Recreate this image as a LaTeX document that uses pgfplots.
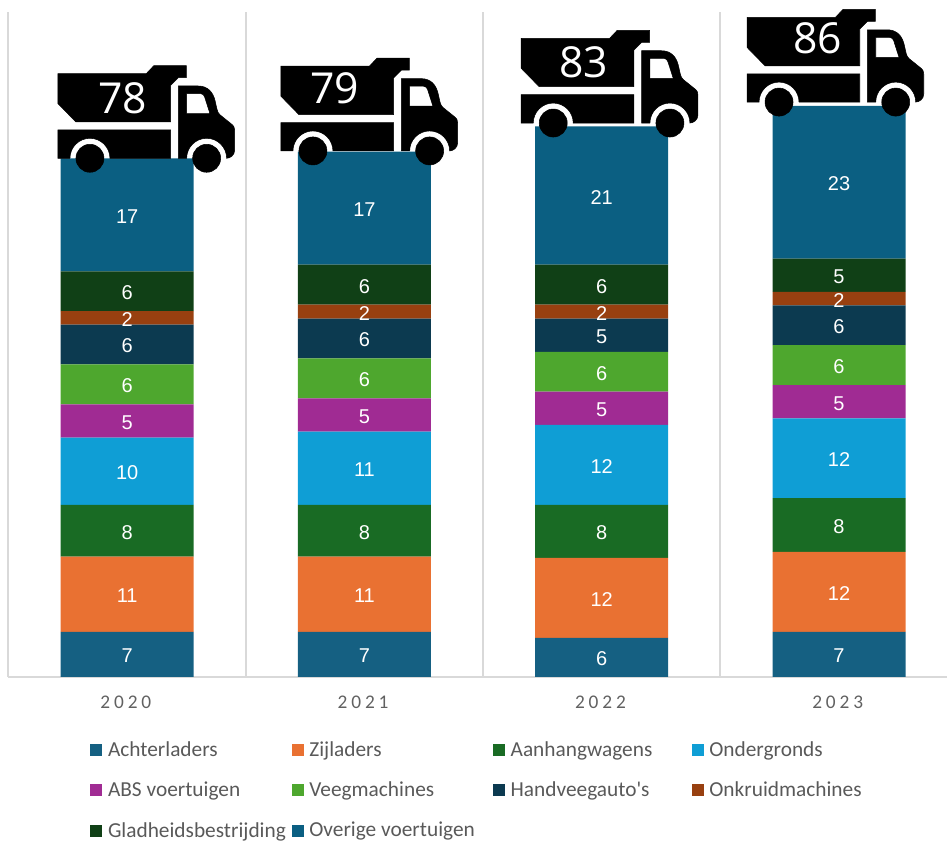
\documentclass[border=0pt]{standalone}
\usepackage{pgfplots}
\pgfplotsset{compat=1.18}
\usepackage{fontspec}
\setmainfont{Liberation Sans}
\newfontfamily\legf{Carlito}
\newfontfamily\tickf[LetterSpace=20]{Carlito}
\newfontfamily\truckf{Open Sans}
\definecolor{c1}{HTML}{156082}
\definecolor{c2}{HTML}{E97132}
\definecolor{c3}{HTML}{196B24}
\definecolor{c4}{HTML}{0F9ED5}
\definecolor{c5}{HTML}{A02B93}
\definecolor{c6}{HTML}{4EA72E}
\definecolor{c7}{HTML}{0C3A50}
\definecolor{c8}{HTML}{984010}
\definecolor{c9}{HTML}{104016}
\definecolor{c10}{HTML}{0B5F82}
\pgfdeclareplotmark{truck}{%
 \fill[black,x=.75pt,y=.75pt,even odd rule]
  (0,84.7)--(88.4,84.7)--(96,92.7)--(128.4,92.7)--(128.4,80.7)--(120.4,80.7)--(112.7,73)--(112.7,36.3)--(18,36.3)--(0,54.7)--cycle
  (0,28.3)--(112.7,28.3)--(112.7,0)--(52,0) arc[start angle=0,end angle=180,radius=20]--(0,0)--cycle
  (120.4,72.3)--(140,72.3) .. controls (150,72.3) and (155,66) .. (157,58) .. controls (159,50) and (159,46) .. (162,43.5) --(174.4,33.5) .. controls (176,32) .. (176.7,28)--(176.7,8) .. controls (176.7,3) and (172,0) .. (168.7,0) arc[start angle=0,end angle=180,radius=20]--(120.4,0)--cycle
  (128.7,64.7)--(142.7,64.7) .. controls (145,64.7) and (146,63) .. (146.7,61.3)--(152,44.7)--(128.7,44.7)--cycle
  (32,0) circle[radius=14] (148.7,0) circle[radius=14];
}
\pgfplotsset{base/.style={
  at={(8.5*.75pt,165*.75pt)},anchor=south west,scale only axis,
  width=938.5*.75pt,height=665*.75pt,
  xmin=0,xmax=3.955,ymin=0,ymax=100,clip=false}}
\newcommand\truck[7]{%
  \addplot[only marks,mark=truck,mark options={xshift=#3*.75pt,yshift=#4*.75pt},
    nodes near coords={\truckf\fontsize{32}{32}\selectfont #7},
    every node near coord/.style={anchor=center,text=white,inner sep=0pt,xshift=#5*.75pt,yshift=#6*.75pt}]
    coordinates {(#1,#2)};}
\begin{document}
\begin{tikzpicture}
\path[use as bounding box] (0,0) rectangle (947*.75pt,842*.75pt);
\begin{axis}[base,
  ybar stacked,bar width=133*.75pt,
  axis x line=bottom,axis y line=none,
  axis line style={draw=black!15,line width=1.5pt,-},
  xtick={0.5,1.5,2.5,3.5},xticklabels={2020,2021,2022,2023},
  major tick length=0pt,
  minor xtick={0,1,2,3},minor tick length=0pt,xminorgrids=true,
  minor grid style={draw=black!15,line width=1.5pt},
  tick label style={font=\tickf\fontsize{14.5}{14.5}\selectfont,text=black!62},
  xticklabel style={yshift=-11pt,xshift=-1pt},
  nodes near coords,
  point meta=explicit symbolic,
  nodes near coords style={font=\fontsize{15}{15}\selectfont,text=white,anchor=center,inner sep=0pt,yshift=-1.2pt},
  legend columns=4,
  legend cell align=left,
  legend image code/.code={\fill[#1,draw=none] (0,-4.5pt) rectangle (9pt,4.5pt);},
  legend style={draw=none,fill=none,inner sep=0pt,at={(81.5*.75pt,-62*.75pt)},anchor=north west,
     font=\legf\fontsize{16}{16}\selectfont,text=black!65,
     /tikz/every odd column/.append style={column sep=2.3pt},
     /tikz/every even column/.append style={column sep=7pt},
     /tikz/row sep=13.5pt},
]
\addplot+[fill=c1,draw=none] coordinates {(0.5,6.8)[7](1.5,6.8)[7](2.5,5.9)[6](3.5,6.8)[7]};
\addplot+[fill=c2,draw=none] coordinates {(0.5,11.3)[11](1.5,11.3)[11](2.5,12)[12](3.5,12)[12]};
\addplot+[fill=c3,draw=none] coordinates {(0.5,7.8)[8](1.5,7.8)[8](2.5,8)[8](3.5,8.1)[8]};
\addplot+[fill=c4,draw=none] coordinates {(0.5,10.1)[10](1.5,11)[11](2.5,12)[12](3.5,12)[12]};
\addplot+[fill=c5,draw=none] coordinates {(0.5,5)[5](1.5,5)[5](2.5,5)[5](3.5,5)[5]};
\addplot+[fill=c6,draw=none] coordinates {(0.5,6)[6](1.5,6)[6](2.5,6)[6](3.5,6)[6]};
\addplot+[fill=c7,draw=none] coordinates {(0.5,6)[6](1.5,6)[6](2.5,5)[5](3.5,6)[6]};
\addplot+[fill=c8,draw=none] coordinates {(0.5,2)[2](1.5,2.1)[2](2.5,2.1)[2](3.5,2)[2]};
\addplot+[fill=c9,draw=none] coordinates {(0.5,6)[6](1.5,6)[6](2.5,6)[6](3.5,5)[5]};
\addplot+[fill=c10,draw=none] coordinates {(0.5,17)[17](1.5,17)[17](2.5,20.8)[21](3.5,23)[23]};
\legend{\makebox[128.7pt][l]{Achterladers},\makebox[128.7pt][l]{Zijladers},\makebox[126.7pt][l]{Aanhangwagens},Ondergronds,
 \makebox[128.7pt][l]{ABS voertuigen},\makebox[128.7pt][l]{Veegmachines},\makebox[126.7pt][l]{Handveegauto's},Onkruidmachines,
 \makebox[128.7pt][l]{Gladheidsbestrijding},\makebox[128.7pt][l]{Overige voertuigen}}
\end{axis}
\begin{axis}[base,axis x line=none,axis y line=none]
\truck{0.5}{78}{-69.2}{0}{64.7}{60}{78}
\truck{1.5}{79}{-83.5}{0.7}{53.5}{63}{79}
\truck{2.5}{83}{-80.5}{2}{62.5}{60.3}{83}
\truck{3.5}{86}{-92}{3}{70.5}{64}{86}
\end{axis}
\end{tikzpicture}
\end{document}
